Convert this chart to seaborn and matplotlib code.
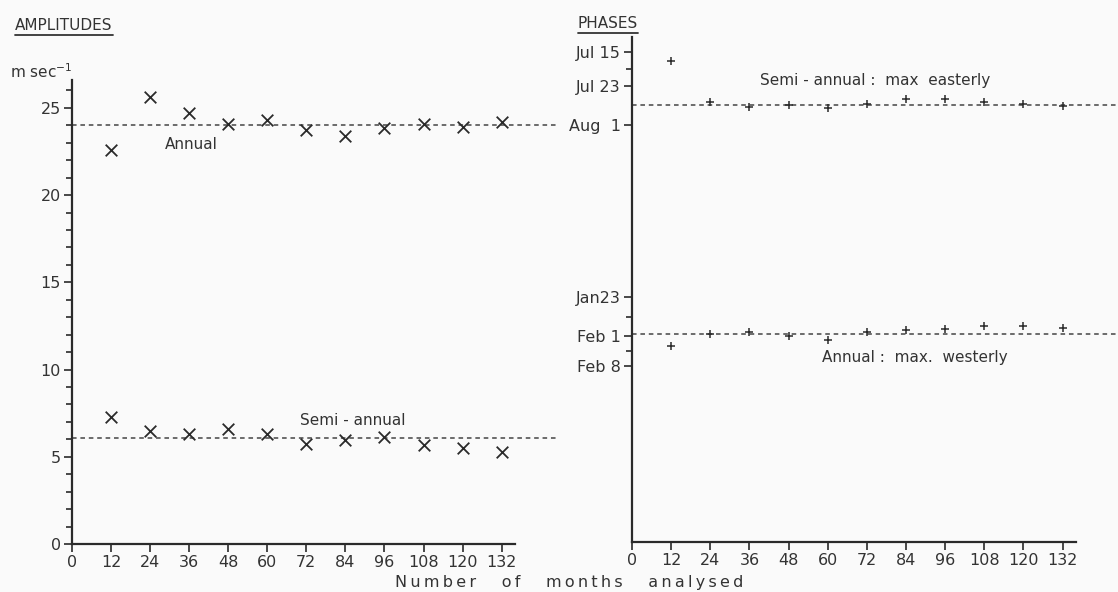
import matplotlib
matplotlib.use("Agg")
import matplotlib.pyplot as plt
import matplotlib.lines as mlines
import pandas as pd
import seaborn as sns

# months of data analysed
months = [12, 24, 36, 48, 60, 72, 84, 96, 108, 120, 132]

# amplitudes (m/s)
annual_amp = [22.6, 25.6, 24.7, 24.1, 24.3, 23.75, 23.4, 23.85, 24.05, 23.9, 24.2]
semi_amp = [7.3, 6.5, 6.3, 6.6, 6.3, 5.75, 5.95, 6.15, 5.7, 5.5, 5.25]
annual_amp_mean = 24.0
semi_amp_mean = 6.1

# phases, in days along the (broken) phase axis
semi_phase = [2.0, 11.5, 12.7, 12.35, 13.05, 12.1, 10.8, 10.8, 11.5, 12.1, 12.5]
annual_phase = [68.3, 65.6, 65.1, 66.0, 66.9, 65.1, 64.6, 64.4, 63.6, 63.6, 64.1]
semi_phase_mean = 12.35
annual_phase_mean = 65.6

phase_ticks = [0, 8, 17, 57, 66, 73]
phase_labels = ["Jul 15", "Jul 23", "Aug  1", "Jan23", "Feb 1", "Feb 8"]
phase_minor = [4, 61.5, 69.5]

month_ticks = list(range(0, 133, 12))

amp_df = pd.DataFrame({"months": months * 2,
                       "amp": annual_amp + semi_amp,
                       "kind": ["Annual"] * 11 + ["Semi-annual"] * 11})
phase_df = pd.DataFrame({"months": months * 2,
                         "phase": semi_phase + annual_phase,
                         "kind": ["Semi-annual"] * 11 + ["Annual"] * 11})

sns.set_style("ticks")
plt.rcParams["font.family"] = ["DejaVu Sans"]
ink = "#2a2a2a"
txt = "#333333"

fig = plt.figure(figsize=(11.18, 5.92), dpi=100, facecolor="#fafafa")
W, H = 1118, 592
ax1 = fig.add_axes([72 / W, 1 - 544 / H, 485 / W, 464 / H])
ax2 = fig.add_axes([632 / W, 1 - 542 / H, 486 / W, 505 / H])

# ---- amplitudes
sns.scatterplot(data=amp_df, x="months", y="amp", marker="x", s=70,
                color=ink, linewidth=1.3, legend=False, ax=ax1)
for m in (annual_amp_mean, semi_amp_mean):
    ax1.axhline(m, color="#444444", lw=1.1, ls=(0, (3, 2.5)), zorder=0)
ax1.set_xlim(0, 149)
ax1.set_ylim(0, 26.6)
ax1.set_yticks(range(0, 26, 5))
ax1.set_yticks(range(0, 27), minor=True)
ax1.text(28.5, 22.9, "Annual", fontsize=11, color=txt, va="center")
ax1.text(70, 7.1, "Semi - annual", fontsize=11, color=txt, va="center")

# ---- phases
sns.scatterplot(data=phase_df, x="months", y="phase", marker="+", s=28,
                color=ink, linewidth=1.1, legend=False, ax=ax2)
for m in (semi_phase_mean, annual_phase_mean):
    ax2.axhline(m, color="#444444", lw=1.1, ls=(0, (3, 2.5)), zorder=0)
ax2.set_xlim(0, 149)
ax2.set_ylim(113.9, -3.5)
ax2.set_yticks(phase_ticks)
ax2.set_yticklabels(phase_labels)
ax2.set_yticks(phase_minor, minor=True)
ax2.text(39.3, 6.7, "Semi - annual :  max  easterly", fontsize=11, color=txt, va="center")
ax2.text(58.3, 71.1, "Annual :  max.  westerly", fontsize=11, color=txt, va="center")

for ax in (ax1, ax2):
    ax.set_facecolor("none")
    sns.despine(ax=ax)
    ax.spines["bottom"].set_bounds(0, 136)
    for s in ("left", "bottom"):
        ax.spines[s].set_color(ink)
        ax.spines[s].set_linewidth(1.6)
    ax.set_xticks(month_ticks)
    ax.set_xlabel("")
    ax.set_ylabel("")
    ax.tick_params(which="major", length=6, width=1.2, color=ink,
                   labelsize=11.5, labelcolor=txt, pad=2)
    ax.tick_params(which="minor", length=4, width=1.2, color=ink)
    ax.tick_params(axis="x", which="minor", bottom=False)

fig.text(10 / W, 1 - 72 / H, "m sec$^{-1}$", fontsize=11, color=txt, va="center")

# letter-spaced axis title shared by both panels
words = ["Number", "of", "months", "analysed"]
spaced = "     ".join("\u2009".join(w) for w in words)
fig.text(569 / W, 1 - 582 / H, spaced, fontsize=11.5, color=txt,
         ha="center", va="center")

titles = [fig.text(15 / W, 1 - 25 / H, "AMPLITUDES", fontsize=11, color=txt, va="center"),
          fig.text(578 / W, 1 - 23 / H, "PHASES", fontsize=11, color=txt, va="center")]
fig.canvas.draw()
r = fig.canvas.get_renderer()
for t in titles:
    bb = t.get_window_extent(r).transformed(fig.transFigure.inverted())
    fig.add_artist(mlines.Line2D([bb.x0, bb.x1], [bb.y0 - 0.005, bb.y0 - 0.005],
                                 transform=fig.transFigure, color=txt, lw=1.3))

fig.savefig("out.png", dpi=100, facecolor=fig.get_facecolor())
